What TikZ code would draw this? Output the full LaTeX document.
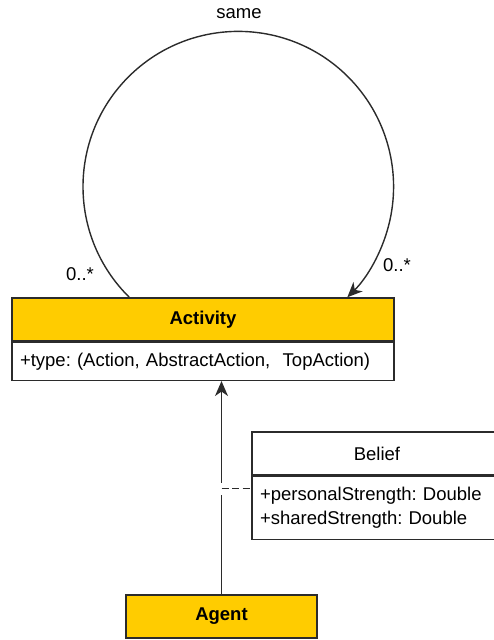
\documentclass[tikz,border=0pt]{standalone}
\usepackage{fontspec}
\setmainfont{Liberation Sans}
\frenchspacing
\usetikzlibrary{positioning}
\usetikzlibrary{arrows.meta}

\definecolor{umlyellow}{HTML}{FFCC00}
\definecolor{umlline}{HTML}{2B2B2B}

\newcommand{\umlfont}{\fontsize{18.5}{24}\selectfont}

\tikzset{
	classhead/.style={draw=umlline,line width=1.5pt,fill=umlyellow,inner sep=0pt,font=\umlfont\bfseries},
	classplain/.style={draw=umlline,line width=1.3pt,fill=white,inner sep=0pt},
	classbody/.style={draw=umlline,line width=1.3pt,fill=white,inner xsep=8pt,inner ysep=0pt,align=left},
	assoc/.style={line width=1.4pt,umlline,-{Stealth[length=15pt,width=13pt,inset=4.5pt]}},
	mult/.style={inner sep=0pt}
}

\begin{document}
\begin{tikzpicture}[x=1pt,y=1pt,font=\umlfont]
	\useasboundingbox (0,0) rectangle (493,640);
	% Activity
	\node[classhead,minimum width=382pt,minimum height=43pt] (act) at (203,320.5) {Activity};
	\node[classbody,text width=366pt,minimum height=38pt,below=0pt of act] (actattr)
		{+type: (Action, AbstractAction,\ \ TopAction)};
	% Belief (cut at the right edge)
	\node[classplain,minimum width=250pt,minimum height=43pt] (bel) at (377,186.5) {Belief};
	\node[classbody,text width=234pt,minimum height=63pt,below=0pt of bel] (belattr)
		{+personalStrength: Double\\+sharedStrength: Double};
	% Agent
	\node[classhead,minimum width=191pt,minimum height=43pt] (agent) at (221.5,23.5) {Agent};

	% self association
	\coordinate (loopa) at ([xshift=118pt]act.north west);
	\coordinate (loopb) at ([xshift=336pt]act.north west);
	\draw[assoc] (loopa) arc[start angle=225.4,end angle=-45.4,radius=155.3];
	\node[mult] (same) at (239,626) {same};
	\node[mult] (multa) at (80,366) {0..*};
	\node[mult] (multb) at (397,375) {0..*};

	% Agent -> Activity, with a jump over the dashed link
	\coordinate (jumplo) at (agent.north |- 0,145);
	\coordinate (jumphi) at (agent.north |- 0,157);
	\draw[line width=1.4pt,umlline] (agent.north) -- (jumplo);
	\draw[assoc] (jumphi) -- (agent.north |- actattr.south);
	\coordinate (linkend) at ([yshift=-13pt]belattr.north west);
	\draw[line width=1.4pt,umlline,dash pattern=on 7pt off 3.5pt] (agent.north |- linkend) -- (linkend);
\end{tikzpicture}
\end{document}
